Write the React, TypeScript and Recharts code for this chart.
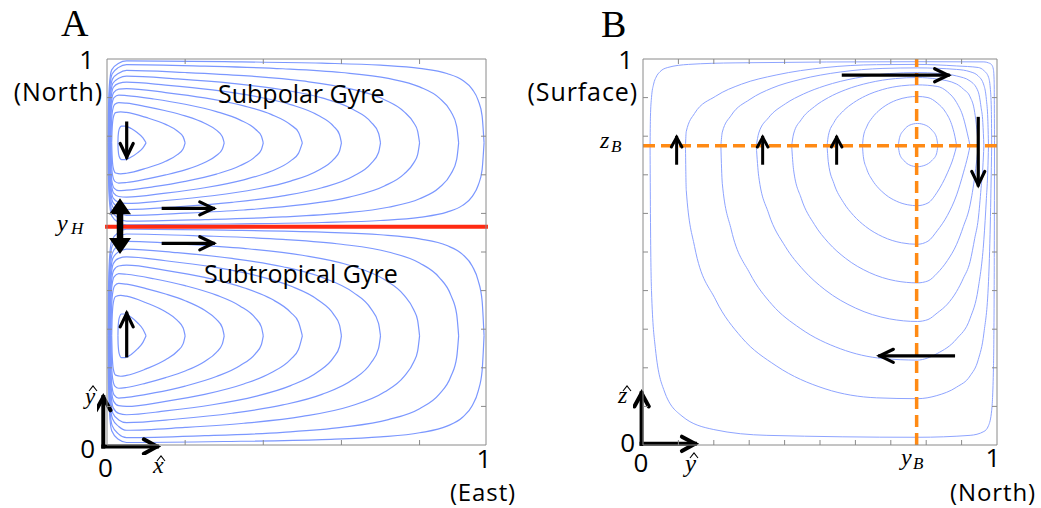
import React from 'react'
import { LineChart, Line, XAxis, YAxis, ReferenceLine } from 'recharts'

type P = [number, number]

// Panel A (double gyre). Upper half of each streamline as [x, s]:
// s = distance from the gyre centre line in gyre half-heights (0 centre, 1 edge).
// Both gyres show the same family of lines, the lower half is the mirror image.
const gyre1: P[] = [[0.028, 0], [0.0285, 0.08], [0.031, 0.16], [0.037, 0.2], [0.047, 0.2], [0.062, 0.17], [0.078, 0.12], [0.092, 0.06], [0.1, 0]]
const gyre2: P[] = [[0.012, 0], [0.013, 0.15], [0.016, 0.3], [0.022, 0.36], [0.035, 0.37], [0.05, 0.363], [0.1, 0.303], [0.15, 0.22], [0.18, 0.141], [0.195, 0.071], [0.2, 0]]
const gyre3: P[] = [[0.01, 0], [0.011, 0.18], [0.014, 0.38], [0.02, 0.46], [0.03, 0.48], [0.05, 0.473], [0.1, 0.433], [0.15, 0.383], [0.2, 0.322], [0.25, 0.234], [0.28, 0.151], [0.295, 0.076], [0.3, 0]]
const gyre4: P[] = [[0.009, 0], [0.0095, 0.2], [0.012, 0.44], [0.018, 0.54], [0.03, 0.57], [0.05, 0.564], [0.12, 0.523], [0.2, 0.46], [0.28, 0.373], [0.34, 0.274], [0.38, 0.162], [0.395, 0.082], [0.4, 0]]
const gyre5: P[] = [[0.008, 0], [0.0085, 0.22], [0.011, 0.48], [0.017, 0.6], [0.03, 0.64], [0.05, 0.647], [0.15, 0.6], [0.25, 0.536], [0.35, 0.441], [0.42, 0.339], [0.47, 0.215], [0.49, 0.126], [0.5, 0]]
const gyre6: P[] = [[0.007, 0], [0.0075, 0.24], [0.01, 0.52], [0.016, 0.66], [0.03, 0.71], [0.05, 0.723], [0.15, 0.688], [0.27, 0.631], [0.38, 0.554], [0.47, 0.456], [0.54, 0.329], [0.58, 0.197], [0.595, 0.1], [0.6, 0]]
const gyre7: P[] = [[0.006, 0], [0.0065, 0.26], [0.009, 0.56], [0.015, 0.71], [0.03, 0.77], [0.05, 0.795], [0.18, 0.762], [0.32, 0.709], [0.45, 0.633], [0.55, 0.536], [0.63, 0.398], [0.675, 0.251], [0.695, 0.115], [0.7, 0]]
const gyre8: P[] = [[0.005, 0], [0.0055, 0.28], [0.008, 0.6], [0.014, 0.76], [0.03, 0.83], [0.05, 0.865], [0.2, 0.839], [0.35, 0.801], [0.5, 0.738], [0.62, 0.647], [0.71, 0.515], [0.76, 0.373], [0.785, 0.239], [0.795, 0.141], [0.8, 0]]
const gyre9: P[] = [[0.004, 0], [0.0045, 0.3], [0.007, 0.64], [0.013, 0.82], [0.03, 0.9], [0.05, 0.933], [0.25, 0.915], [0.45, 0.884], [0.6, 0.839], [0.72, 0.768], [0.8, 0.667], [0.85, 0.536], [0.88, 0.373], [0.895, 0.197], [0.9, 0]]
const gyre10: P[] = [[0.003, 0], [0.0035, 0.32], [0.006, 0.68], [0.012, 0.87], [0.03, 0.95], [0.05, 0.977], [0.3, 0.968], [0.55, 0.95], [0.7, 0.926], [0.8, 0.888], [0.87, 0.827], [0.91, 0.746], [0.935, 0.638], [0.95, 0.506], [0.96, 0.322], [0.965, 0]]
const gyreLines = [gyre1, gyre2, gyre3, gyre4, gyre5, gyre6, gyre7, gyre8, gyre9, gyre10]

const yH = 0.5655
const subpolar = { mid: 0.7828, half: 0.2172 }
const subtropical = { mid: 0.2828, half: 0.2828 }

const ticksAx = [0.2, 0.4, 0.6, 0.8]
const ticksAy = [0.1, 0.2, 0.3, 0.4, 0.5, 0.6, 0.7, 0.8, 0.9]

// flow arrows in panel A, [from, to]
const arrowsA: P[][] = [
  [[0.0504, 0.834], [0.0504, 0.746]],
  [[0.0504, 0.231], [0.0504, 0.341]],
  [[0.144, 0.613], [0.272, 0.613]],
  [[0.144, 0.5225], [0.272, 0.5225]],
]
const axisArrowsA: P[][] = [
  [[-0.0095, -0.004], [-0.0095, 0.124]],
  [[-0.0095, -0.004], [0.128, -0.004]],
]
const yHArrow: P[] = [[0.0333, 0.639], [0.0333, 0.495]]

// Panel B (overturning cell), [y, z]; each streamline split into its upper and lower half
const cell1Top: P[] = [[0.721, 0.775], [0.725, 0.797], [0.737, 0.816], [0.754, 0.829], [0.775, 0.833], [0.797, 0.829], [0.816, 0.816], [0.829, 0.797], [0.833, 0.775]]
const cell1Bot: P[] = [[0.721, 0.775], [0.725, 0.754], [0.737, 0.737], [0.754, 0.725], [0.775, 0.721], [0.797, 0.725], [0.816, 0.737], [0.829, 0.754], [0.833, 0.775]]
const cell2Top: P[] = [[0.62, 0.775], [0.6223, 0.7973], [0.6318, 0.824], [0.648, 0.8484], [0.6654, 0.8655], [0.686, 0.8798], [0.7156, 0.8933], [0.748, 0.901], [0.775, 0.903], [0.805, 0.9], [0.831, 0.886], [0.855, 0.862], [0.872, 0.83], [0.881, 0.8], [0.886, 0.775]]
const cell2Bot: P[] = [[0.62, 0.775], [0.6223, 0.748], [0.6318, 0.7156], [0.648, 0.686], [0.6654, 0.6654], [0.686, 0.648], [0.7156, 0.6318], [0.748, 0.6223], [0.775, 0.62], [0.805, 0.627], [0.831, 0.655], [0.86, 0.705], [0.877, 0.745], [0.886, 0.775]]
const cell3Top: P[] = [[0.52, 0.775], [0.5238, 0.8025], [0.5394, 0.8355], [0.5662, 0.8657], [0.5947, 0.8867], [0.6286, 0.9044], [0.6773, 0.921], [0.7306, 0.9306], [0.775, 0.933], [0.831, 0.929], [0.86, 0.915], [0.886, 0.887], [0.905, 0.848], [0.916, 0.808], [0.924, 0.775]]
const cell3Bot: P[] = [[0.52, 0.775], [0.5238, 0.7306], [0.5394, 0.6773], [0.5662, 0.6286], [0.5947, 0.5947], [0.6286, 0.5662], [0.6773, 0.5394], [0.7306, 0.5238], [0.775, 0.52], [0.805, 0.528], [0.831, 0.555], [0.86, 0.595], [0.886, 0.648], [0.905, 0.705], [0.918, 0.75], [0.924, 0.775]]
const cell4Top: P[] = [[0.42, 0.775], [0.4253, 0.8057], [0.447, 0.8428], [0.4842, 0.8765], [0.524, 0.9002], [0.5714, 0.92], [0.639, 0.9385], [0.7132, 0.9493], [0.775, 0.952], [0.831, 0.948], [0.886, 0.935], [0.905, 0.922], [0.924, 0.902], [0.937, 0.862], [0.943, 0.818], [0.947, 0.775]]
const cell4Bot: P[] = [[0.42, 0.775], [0.4253, 0.7132], [0.447, 0.639], [0.4842, 0.5714], [0.524, 0.524], [0.5714, 0.4842], [0.639, 0.447], [0.7132, 0.4253], [0.775, 0.42], [0.805, 0.425], [0.831, 0.445], [0.86, 0.478], [0.886, 0.52], [0.905, 0.566], [0.924, 0.622], [0.937, 0.695], [0.943, 0.74], [0.947, 0.775]]
const cell5Top: P[] = [[0.32, 0.775], [0.3269, 0.808], [0.3546, 0.8478], [0.4023, 0.884], [0.4533, 0.9093], [0.5138, 0.9306], [0.6007, 0.9506], [0.6958, 0.9622], [0.775, 0.965], [0.831, 0.963], [0.886, 0.956], [0.924, 0.943], [0.947, 0.915], [0.955, 0.875], [0.96, 0.835], [0.963, 0.775]]
const cell5Bot: P[] = [[0.32, 0.775], [0.3269, 0.6958], [0.3546, 0.6007], [0.4023, 0.5138], [0.4533, 0.4533], [0.5138, 0.4023], [0.6007, 0.3546], [0.6958, 0.3269], [0.775, 0.32], [0.805, 0.325], [0.831, 0.342], [0.86, 0.365], [0.886, 0.398], [0.905, 0.432], [0.924, 0.475], [0.937, 0.535], [0.947, 0.585], [0.955, 0.665], [0.96, 0.72], [0.963, 0.775]]
const cell6Top: P[] = [[0.22, 0.775], [0.224, 0.8104], [0.2494, 0.8543], [0.3022, 0.8955], [0.3641, 0.9245], [0.444, 0.947], [0.5573, 0.9663], [0.6778, 0.9756], [0.775, 0.977], [0.886, 0.973], [0.924, 0.967], [0.947, 0.956], [0.963, 0.932], [0.97, 0.895], [0.974, 0.845], [0.976, 0.775]]
const cell6Bot: P[] = [[0.22, 0.775], [0.224, 0.6778], [0.2494, 0.5573], [0.3022, 0.444], [0.3641, 0.3641], [0.444, 0.3022], [0.5573, 0.2494], [0.6778, 0.224], [0.775, 0.22], [0.831, 0.237], [0.886, 0.275], [0.924, 0.328], [0.947, 0.406], [0.963, 0.533], [0.97, 0.638], [0.974, 0.71], [0.976, 0.775]]
const cell7Top: P[] = [[0.12, 0.775], [0.1222, 0.8121], [0.1456, 0.859], [0.2053, 0.9036], [0.2786, 0.9349], [0.376, 0.9585], [0.5143, 0.9778], [0.6599, 0.9853], [0.775, 0.986], [0.886, 0.982], [0.947, 0.978], [0.963, 0.97], [0.976, 0.953], [0.981, 0.925], [0.984, 0.87], [0.985, 0.775]]
const cell7Bot: P[] = [[0.12, 0.775], [0.1222, 0.6599], [0.1456, 0.5143], [0.2053, 0.376], [0.2786, 0.2786], [0.376, 0.2053], [0.5143, 0.1456], [0.6599, 0.1222], [0.775, 0.12], [0.83, 0.128], [0.886, 0.15], [0.924, 0.179], [0.947, 0.221], [0.963, 0.29], [0.976, 0.423], [0.981, 0.57], [0.985, 0.775]]
const cell8Top: P[] = [[0.02, 0.775], [0.021, 0.85], [0.024, 0.9], [0.03, 0.935], [0.037, 0.953], [0.048, 0.967], [0.07, 0.978], [0.129, 0.986], [0.26, 0.99], [0.775, 0.993], [0.963, 0.9925], [0.976, 0.99], [0.985, 0.985], [0.99, 0.972], [0.992, 0.94], [0.993, 0.775]]
const cell8Bot: P[] = [[0.02, 0.775], [0.021, 0.6], [0.024, 0.4], [0.035, 0.25], [0.06, 0.14], [0.11, 0.075], [0.2, 0.04], [0.35, 0.025], [0.775, 0.02], [0.924, 0.025], [0.963, 0.035], [0.976, 0.05], [0.985, 0.09], [0.99, 0.2], [0.992, 0.4], [0.993, 0.775]]
const cellLines = [cell1Top, cell1Bot, cell2Top, cell2Bot, cell3Top, cell3Bot, cell4Top, cell4Bot,
  cell5Top, cell5Bot, cell6Top, cell6Bot, cell7Top, cell7Bot, cell8Top, cell8Bot]

const yB = 0.773
const zB = 0.775
const ticksB = [0.1, 0.2, 0.3, 0.4, 0.5, 0.6, 0.7, 0.8, 0.9]

const arrowsB: P[][] = [
  [[0.566, 0.958], [0.862, 0.958]],
  [[0.947, 0.846], [0.947, 0.674]],
  [[0.877, 0.231], [0.669, 0.231]],
  [[0.095, 0.73], [0.095, 0.797]],
  [[0.338, 0.73], [0.338, 0.797]],
  [[0.547, 0.73], [0.547, 0.797]],
]
const axisArrowsB: P[][] = [
  [[-0.004, 0.003], [-0.004, 0.134]],
  [[-0.004, 0.003], [0.147, 0.003]],
]

const blueA = '#7b97ff'
const blueB = '#8ea4ff'
const frameColor = '#8a8a8a'
const sans = "'Open Sans', 'Noto Sans', sans-serif"
const serif = "'Liberation Serif', 'DejaVu Serif', serif"
const blank = () => ''

const toXY = (pts: P[]) => pts.map(([x, y]) => ({ x, y }))
const gyreHalf = (pts: P[], g: { mid: number; half: number }, sign: number) =>
  pts.map(([x, s]) => ({ x, y: g.mid + sign * s * g.half }))

// open chevron arrow, drawn from the pixel end points the reference line gives us
const chevron = (w: number, len: number, spread: number) => (p: any) => {
  const { x1, y1, x2, y2 } = p
  const a = Math.atan2(y2 - y1, x2 - x1)
  const ax = x2 - len * Math.cos(a - spread)
  const ay = y2 - len * Math.sin(a - spread)
  const bx = x2 - len * Math.cos(a + spread)
  const by = y2 - len * Math.sin(a + spread)
  return (
    <g>
      <line x1={x1} y1={y1} x2={x2} y2={y2} stroke="#000" strokeWidth={w} strokeLinecap="square" />
      <polyline points={`${ax},${ay} ${x2},${y2} ${bx},${by}`} fill="none" stroke="#000" strokeWidth={w} strokeLinejoin="miter" strokeLinecap="round" />
    </g>
  )
}

const doubleArrow = (p: any) => {
  const { x1, y1, x2, y2 } = p
  const a = Math.atan2(y2 - y1, x2 - x1)
  const ux = Math.cos(a), uy = Math.sin(a)
  const nx = -uy, ny = ux
  const hl = 16, hw = 11
  const tri = (tx: number, ty: number, dir: number) => {
    const bx = tx + dir * ux * hl, by = ty + dir * uy * hl
    return `${tx},${ty} ${bx + nx * hw},${by + ny * hw} ${bx - nx * hw},${by - ny * hw}`
  }
  return (
    <g>
      <line x1={x1 + ux * 10} y1={y1 + uy * 10} x2={x2 - ux * 10} y2={y2 - uy * 10} stroke="#000" strokeWidth={6.5} />
      <polygon points={tri(x1, y1, 1)} fill="#000" />
      <polygon points={tri(x2, y2, -1)} fill="#000" />
    </g>
  )
}

const flowArrow = chevron(3.2, 15, 0.45)
const smallArrow = chevron(3, 11, 0.5)
const axisArrow = chevron(4, 15, 0.5)

function PanelA() {
  return (
    <LineChart width={399} height={406} margin={{ top: 10, right: 10, bottom: 10, left: 10 }}>
      <XAxis xAxisId="b" type="number" dataKey="x" domain={[0, 0.97]} ticks={ticksAx} allowDataOverflow mirror orientation="bottom" tickSize={5} tickFormatter={blank} stroke={frameColor} />
      <XAxis xAxisId="t" type="number" dataKey="x" domain={[0, 0.97]} ticks={ticksAx} allowDataOverflow mirror orientation="top" tickSize={5} tickFormatter={blank} stroke={frameColor} />
      <YAxis yAxisId="l" type="number" domain={[0, 1]} ticks={ticksAy} allowDataOverflow mirror orientation="left" tickSize={5} tickFormatter={blank} stroke={frameColor} />
      <YAxis yAxisId="r" type="number" domain={[0, 1]} ticks={ticksAy} allowDataOverflow mirror orientation="right" tickSize={5} tickFormatter={blank} stroke={frameColor} />
      {[subpolar, subtropical].flatMap((g, gi) =>
        gyreLines.flatMap((pts, i) =>
          [1, -1].map((sign) => (
            <Line key={`g${gi}-${i}-${sign}`} xAxisId="b" yAxisId="l" data={gyreHalf(pts, g, sign)} dataKey="y"
              type="monotoneX" dot={false} activeDot={false} stroke={blueA} strokeWidth={1.2} isAnimationActive={false} />
          ))
        )
      )}
      <ReferenceLine xAxisId="b" yAxisId="l" segment={[{ x: -0.005, y: yH }, { x: 0.975, y: yH }]} stroke="#ff2a12" strokeWidth={4} ifOverflow="visible" />
      {arrowsA.map((s, i) => (
        <ReferenceLine key={`fa${i}`} xAxisId="b" yAxisId="l" segment={[{ x: s[0][0], y: s[0][1] }, { x: s[1][0], y: s[1][1] }]} ifOverflow="visible" shape={flowArrow} />
      ))}
      {axisArrowsA.map((s, i) => (
        <ReferenceLine key={`aa${i}`} xAxisId="b" yAxisId="l" segment={[{ x: s[0][0], y: s[0][1] }, { x: s[1][0], y: s[1][1] }]} ifOverflow="visible" shape={axisArrow} />
      ))}
      <ReferenceLine xAxisId="b" yAxisId="l" segment={[{ x: yHArrow[0][0], y: yHArrow[0][1] }, { x: yHArrow[1][0], y: yHArrow[1][1] }]} ifOverflow="visible" shape={doubleArrow} />
    </LineChart>
  )
}

function PanelB() {
  return (
    <LineChart width={374} height={406} margin={{ top: 10, right: 10, bottom: 10, left: 10 }}>
      <XAxis xAxisId="b" type="number" dataKey="x" domain={[0, 1]} ticks={ticksB} allowDataOverflow mirror orientation="bottom" tickSize={5} tickFormatter={blank} stroke={frameColor} />
      <XAxis xAxisId="t" type="number" dataKey="x" domain={[0, 1]} ticks={ticksB} allowDataOverflow mirror orientation="top" tickSize={5} tickFormatter={blank} stroke={frameColor} />
      <YAxis yAxisId="l" type="number" domain={[0, 1]} ticks={ticksB} allowDataOverflow mirror orientation="left" tickSize={5} tickFormatter={blank} stroke={frameColor} />
      <YAxis yAxisId="r" type="number" domain={[0, 1]} ticks={ticksB} allowDataOverflow mirror orientation="right" tickSize={5} tickFormatter={blank} stroke={frameColor} />
      {cellLines.map((pts, i) => (
        <Line key={`c${i}`} xAxisId="b" yAxisId="l" data={toXY(pts)} dataKey="y" type="monotoneX" dot={false} activeDot={false}
          stroke={blueB} strokeWidth={1} isAnimationActive={false} />
      ))}
      <ReferenceLine xAxisId="b" yAxisId="l" y={zB} stroke="#ff8a14" strokeWidth={3.5} strokeDasharray="12 6" ifOverflow="visible" />
      <ReferenceLine xAxisId="b" yAxisId="l" x={yB} stroke="#ff8a14" strokeWidth={3.5} strokeDasharray="12 6" ifOverflow="visible" />
      {arrowsB.map((s, i) => (
        <ReferenceLine key={`fb${i}`} xAxisId="b" yAxisId="l" segment={[{ x: s[0][0], y: s[0][1] }, { x: s[1][0], y: s[1][1] }]} ifOverflow="visible" shape={i < 3 ? flowArrow : smallArrow} />
      ))}
      {axisArrowsB.map((s, i) => (
        <ReferenceLine key={`ab${i}`} xAxisId="b" yAxisId="l" segment={[{ x: s[0][0], y: s[0][1] }, { x: s[1][0], y: s[1][1] }]} ifOverflow="visible" shape={axisArrow} />
      ))}
    </LineChart>
  )
}

// circumflex over the unit-vector letters, drawn as a stroke so it is not a separate text
function Hat({ x, y }: { x: number; y: number }) {
  return <polyline points={`${x - 4},${y + 5} ${x},${y} ${x + 4},${y + 5}`} fill="none" stroke="#000" strokeWidth={1.1} />
}

export default function App() {
  const math = { fontFamily: serif, fontStyle: 'italic' as const }
  const word = { fontFamily: sans, fontSize: 25, letterSpacing: 0.9 }
  const num = { fontFamily: sans, fontSize: 26 }
  return (
    <div style={{ position: 'absolute', left: 0, top: 0, width: 1041, height: 508, background: '#fff' }}>
      <div style={{ position: 'absolute', left: 97, top: 49 }}>
        <PanelA />
      </div>
      <div style={{ position: 'absolute', left: 633, top: 49 }}>
        <PanelB />
      </div>
      <svg width={1041} height={508} style={{ position: 'absolute', left: 0, top: 0, pointerEvents: 'none' }}>
        {/* panel A */}
        <text x={61} y={36} fontFamily={serif} fontSize={38}>A</text>
        <text x={94} y={69} textAnchor="end" {...num}>1</text>
        <text x={103} y={101} textAnchor="end" {...word}>(North)</text>
        <text x={57} y={231} {...math} fontSize={24}>y</text>
        <text x={71} y={234} {...math} fontSize={17}>H</text>
        <text x={218} y={103} fontFamily={sans} fontSize={25}>Subpolar Gyre</text>
        <text x={204} y={283} fontFamily={sans} fontSize={25}>Subtropical Gyre</text>
        <text x={85} y={404} {...math} fontSize={23}>y</text>
        <Hat x={93} y={386} />
        <text x={95} y={458} textAnchor="end" {...num}>0</text>
        <text x={105.5} y={477} textAnchor="middle" {...num}>0</text>
        <text x={153} y={473} {...math} fontSize={24}>x</text>
        <Hat x={161} y={456} />
        <text x={484} y={468} textAnchor="middle" {...num}>1</text>
        <text x={483} y={501} textAnchor="middle" {...word} fontSize={24}>(East)</text>
        {/* panel B */}
        <text x={601} y={37} fontFamily={serif} fontSize={38}>B</text>
        <text x={633} y={69} textAnchor="end" {...num}>1</text>
        <text x={638} y={101} textAnchor="end" {...word}>(Surface)</text>
        <text x={600} y={148} {...math} fontSize={24}>z</text>
        <text x={611} y={152} {...math} fontSize={17}>B</text>
        <text x={618} y={403} {...math} fontSize={24}>z</text>
        <Hat x={627} y={386} />
        <text x={635} y={452} textAnchor="end" {...num}>0</text>
        <text x={641} y={472} textAnchor="middle" {...num}>0</text>
        <text x={685} y={472} {...math} fontSize={25}>y</text>
        <Hat x={694} y={453} />
        <text x={901} y={465} {...math} fontSize={24}>y</text>
        <text x={913} y={469} {...math} fontSize={17}>B</text>
        <text x={993} y={467} textAnchor="middle" {...num}>1</text>
        <text x={993} y={501} textAnchor="middle" {...word} fontSize={24}>(North)</text>
      </svg>
    </div>
  )
}
